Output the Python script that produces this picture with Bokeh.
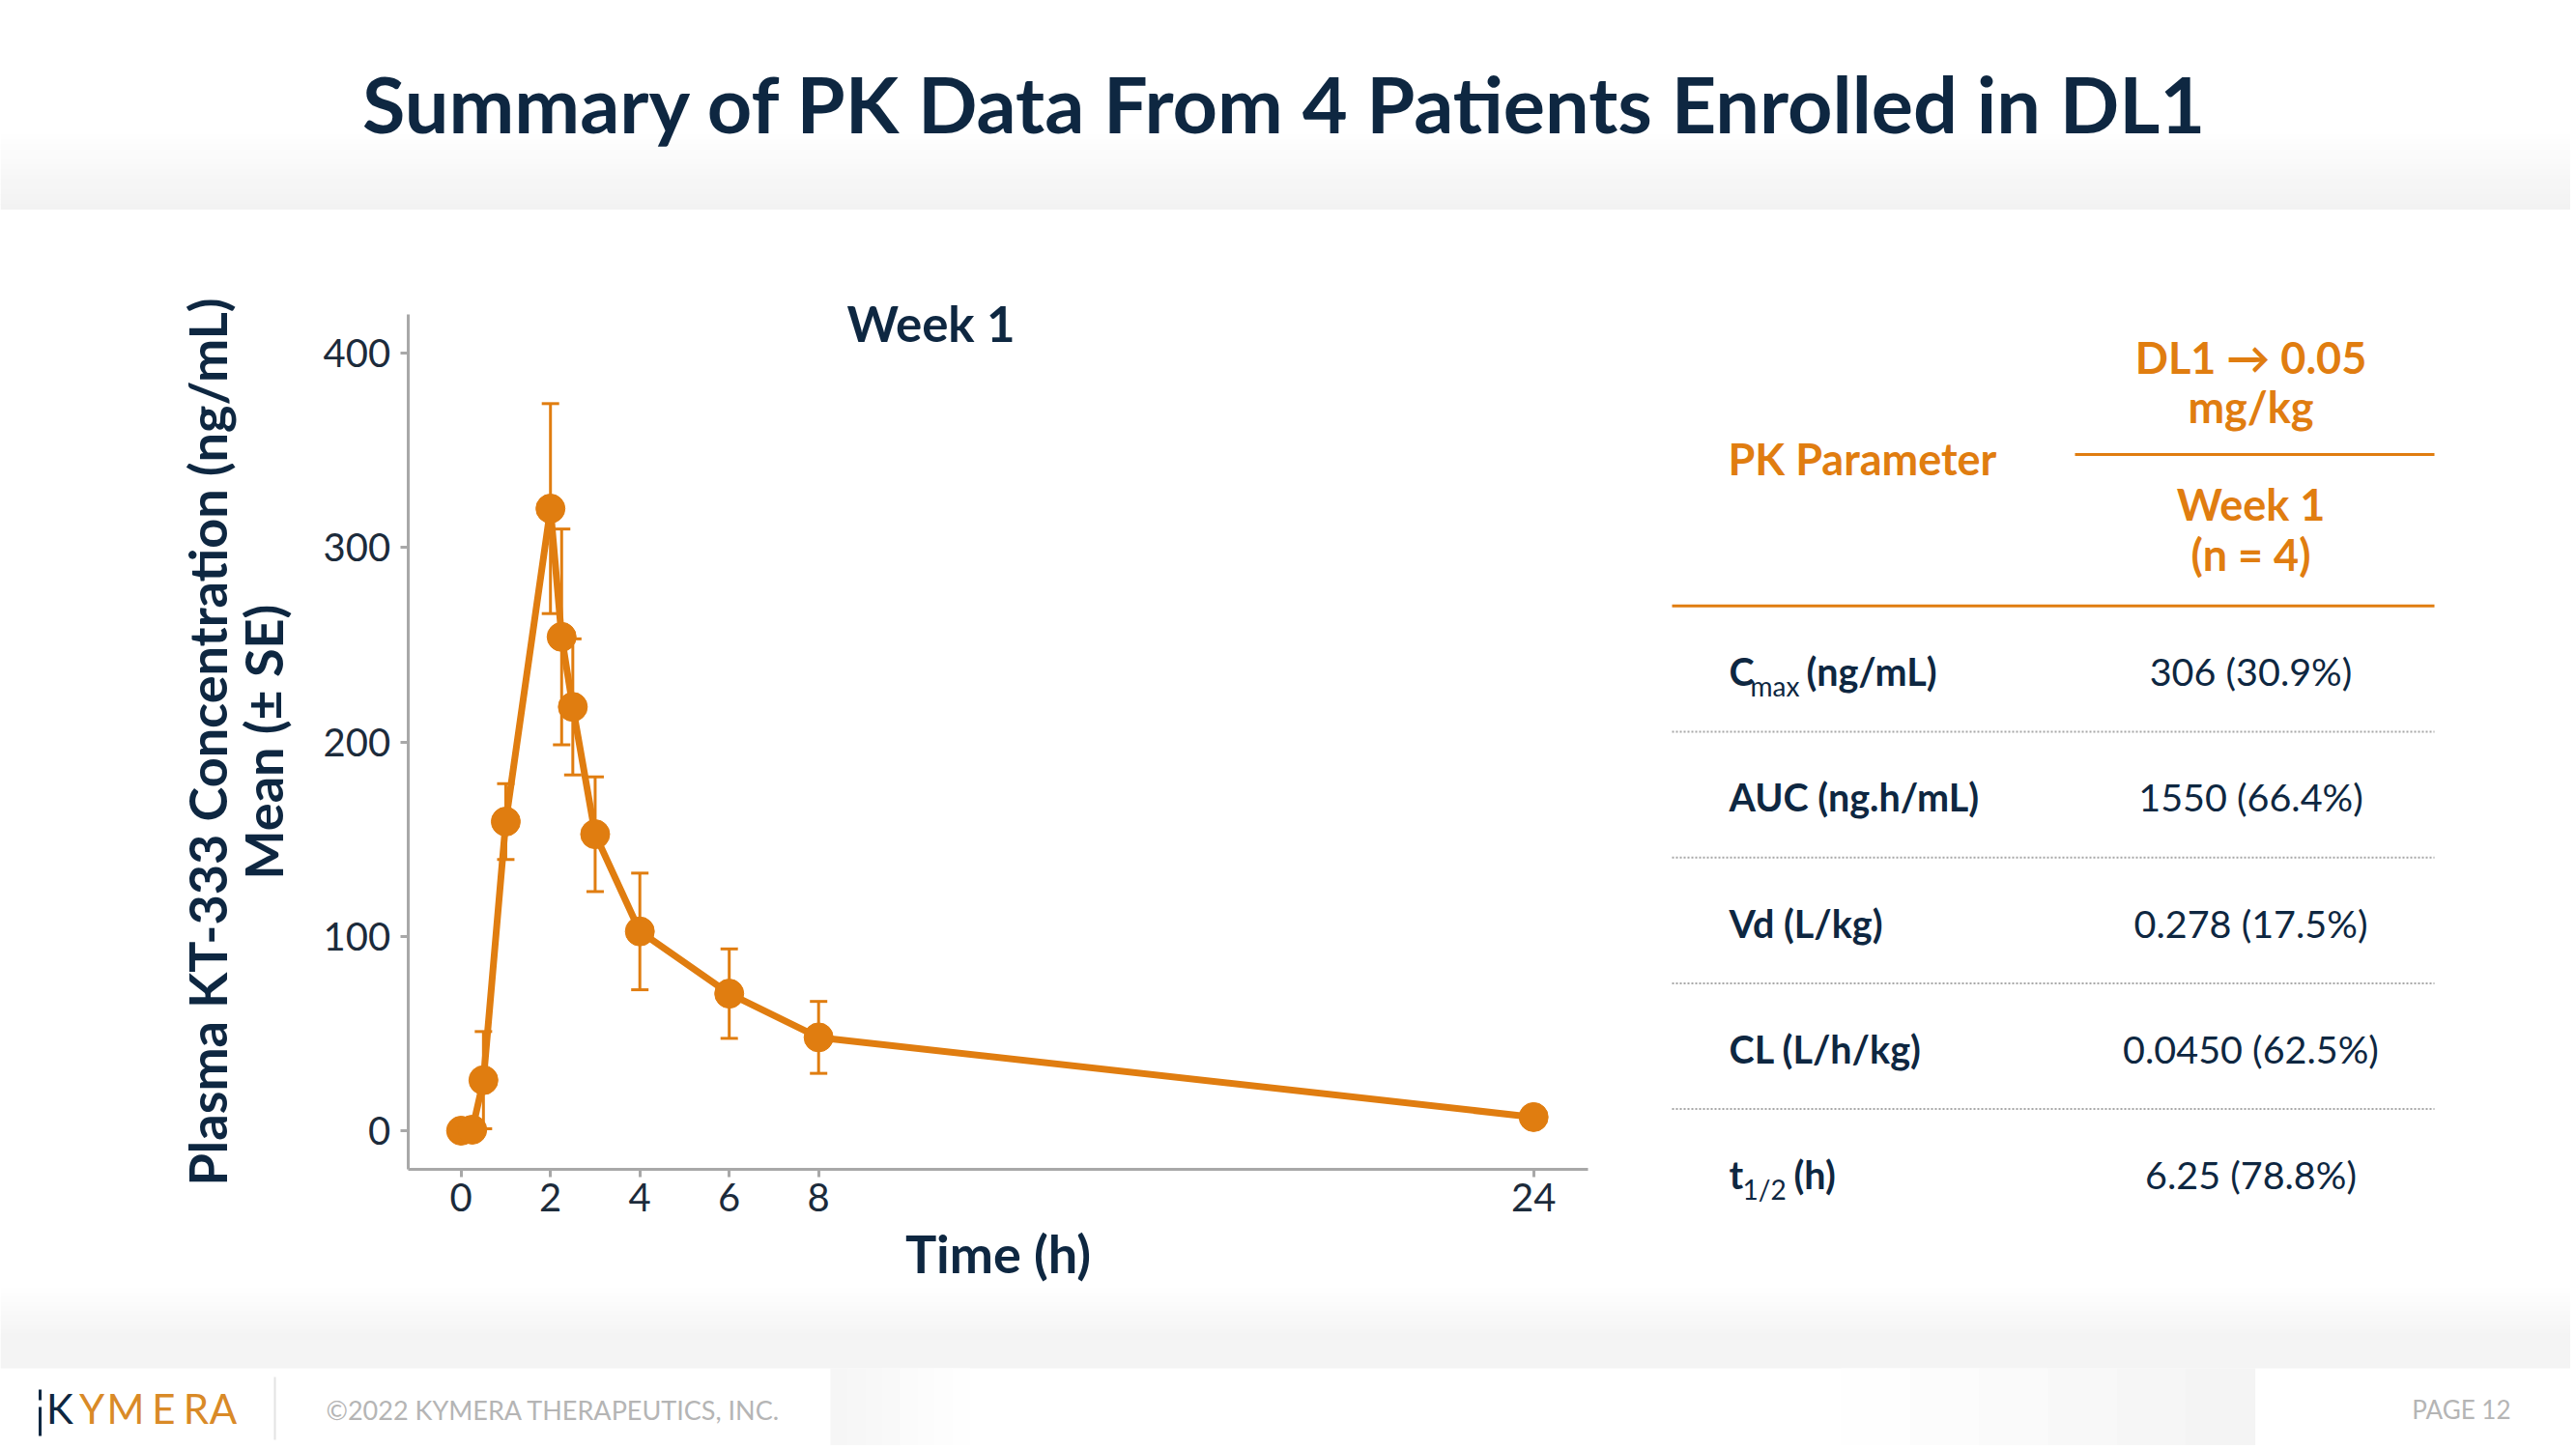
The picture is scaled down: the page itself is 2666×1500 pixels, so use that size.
from bokeh.plotting import figure
from bokeh.models import Range1d, FixedTicker
from bokeh.embed import file_html
from bokeh.resources import INLINE
from bokeh.core.properties import value

# ---------------- data ----------------
time_h = [0, 0.25, 0.5, 1, 2, 2.25, 2.5, 3, 4, 6, 8, 24]
mean_conc = [0, 0.5, 26, 159, 320, 254, 218, 152.5, 102.5, 70.5, 48, 7]
se_conc = [0, 0, 25, 19.5, 54, 55.5, 35, 29.5, 30, 23, 18.5, 0]
x_ticks = [0, 2, 4, 6, 8, 24]
y_ticks = [0, 100, 200, 300, 400]

param_main = ["C", "AUC (ng.h/mL)", "Vd (L/kg)", "CL (L/h/kg)", "t"]
param_sub = ["max", "", "", "", "1/2"]
param_rest = ["(ng/mL)", "", "", "", "(h)"]
param_values = ["306 (30.9%)", "1550 (66.4%)", "0.278 (17.5%)", "0.0450 (62.5%)", "6.25 (78.8%)"]
header_dose = ["DL1 \u2192 0.05", "mg/kg"]
header_week = ["Week 1", "(n = 4)"]

ORANGE = "#E07D10"
NAVY = "#0E2741"
AXIS_GRAY = "#A8A8A8"
FONT = "Lato"

# ---------------- page / chart geometry (pixels) ----------------
W, H = 2660, 1496
X0PX, XSCALE = 476.7, 46.25      # pixel of t=0, pixels per hour
Y0PX, YSCALE = 1170.0, 2.0125    # pixel of conc=0, pixels per ng/mL
X_LO, X_HI = -1.19, 25.21        # axis extent (data)
Y_LO, Y_HI = -19.9, 419.9

p = figure(width=W, height=H,
           x_range=Range1d((0 - X0PX) / XSCALE, (W - X0PX) / XSCALE),
           y_range=Range1d((Y0PX - H) / YSCALE, Y0PX / YSCALE),
           output_backend="svg", toolbar_location=None, min_border=0,
           outline_line_color=None)
p.extra_x_ranges = {"px": Range1d(0, W)}
p.extra_y_ranges = {"px": Range1d(H, 0)}
p.grid.visible = False
p.background_fill_color = "white"
p.border_fill_color = "white"

PX = dict(x_range_name="px", y_range_name="px")


def txt(x, y_base, s, size, color, bold=False, align="left", font=FONT):
    # y_base: desired alphabetic baseline in page pixels
    p.text(x=[x], y=[y_base - 0.387 * size], text=[s], text_font=value(font),
           text_font_size=value(f"{size}px"), text_font_style="bold" if bold else "normal",
           text_color=color, text_align=align, text_baseline="middle", **PX)


def hex2rgb(c):
    c = c.lstrip("#")
    return [int(c[i:i + 2], 16) for i in (0, 2, 4)]


def grad(x0, x1, y0, y1, c0, c1, n=12, vertical=True):
    a, b = hex2rgb(c0), hex2rgb(c1)
    L, R, T, B, C = [], [], [], [], []
    for i in range(n):
        f = (i + 0.5) / n
        C.append("#%02x%02x%02x" % tuple(int(round(a[k] + (b[k] - a[k]) * f)) for k in range(3)))
        if vertical:
            T.append(y0 + (y1 - y0) * i / n)
            B.append(y0 + (y1 - y0) * (i + 1) / n + 0.6)
            L.append(x0)
            R.append(x1)
        else:
            L.append(x0 + (x1 - x0) * i / n)
            R.append(x0 + (x1 - x0) * (i + 1) / n + 0.6)
            T.append(y0)
            B.append(y1)
    p.quad(left=L, right=R, top=T, bottom=B, fill_color=C, line_color=None, **PX)


# ---------------- header ----------------
grad(0, W, 133, 216, "#FFFFFF", "#F2F2F2", n=16)
txt(1330, 137, "Summary of PK Data From 4 Patients Enrolled in DL1", 81, NAVY, bold=True, align="center")

# ---------------- footer ----------------
grad(0, W, 1328, 1385, "#FFFFFF", "#F4F4F4", n=12)
p.quad(left=[0], right=[W], top=[1385], bottom=[1416], fill_color="#F4F4F4", line_color=None, **PX)
grad(859, 1003, 1416, H, "#F5F5F5", "#FFFFFF", n=8, vertical=False)
grad(1905, 2333, 1416, H, "#FFFFFF", "#F3F3F3", n=12, vertical=False)
p.segment(x0=[41, 41], y0=[1438, 1456], x1=[41, 41], y1=[1449, 1486], line_color=NAVY, line_width=3, **PX)
logo_letters = ["K", "Y", "M", "E", "R", "A"]
logo_x = [61.5, 94.5, 129.5, 169, 202.5, 230.5]
for letter, lx in zip(logo_letters, logo_x):
    txt(lx, 1474, letter, 42, NAVY if letter == "K" else "#D98A27", align="center")
p.segment(x0=[284], y0=[1425], x1=[284], y1=[1490], line_color="#E3E3E3", line_width=2, **PX)
txt(337, 1469, "\u00a92022 KYMERA THERAPEUTICS, INC.", 27, "#B5B5B5")
txt(2598, 1469, "PAGE 12", 26, "#B5B5B5", align="right")

# ---------------- table ----------------
CX = 2329
txt(1788, 491.7, "PK Parameter", 45, ORANGE, bold=True)
txt(CX, 386.7, header_dose[0], 45, ORANGE, bold=True, align="center")
txt(CX, 438.3, header_dose[1], 45, ORANGE, bold=True, align="center")
txt(CX, 539.3, header_week[0], 45, ORANGE, bold=True, align="center")
txt(CX, 591, header_week[1], 45, ORANGE, bold=True, align="center")
p.segment(x0=[2147, 1730], y0=[470, 626.7], x1=[2519, 2519], y1=[470, 626.7],
          line_color=ORANGE, line_width=3, **PX)

row_base = [709.3, 839.5, 970, 1100, 1230]
sub_dx = {"max": 22, "1/2": 14}
rest_dx = {"max": 80, "1/2": 67}
for i in range(len(param_main)):
    yb = row_base[i]
    txt(1789, yb, param_main[i], 39.5, NAVY, bold=True)
    if param_sub[i]:
        txt(1789 + sub_dx[param_sub[i]], yb + 11, param_sub[i], 28, NAVY)
        txt(1789 + rest_dx[param_sub[i]], yb, param_rest[i], 39.5, NAVY, bold=True)
    txt(CX, yb, param_values[i], 39.5, NAVY, align="center")
dot_y = [(row_base[i] + row_base[i + 1]) / 2 - 17.5 for i in range(4)]
p.segment(x0=[1730] * 4, y0=dot_y, x1=[2519] * 4, y1=dot_y, line_color="#A8A8A8",
          line_width=2, line_dash="2 2", **PX)

# ---------------- chart ----------------
txt(963, 354, "Week 1", 51, NAVY, bold=True, align="center")

p.xaxis.ticker = FixedTicker(ticks=x_ticks)
p.yaxis.ticker = FixedTicker(ticks=y_ticks)
p.xaxis.fixed_location = Y_LO
p.xaxis.bounds = (X_LO, X_HI)
p.yaxis.fixed_location = X_LO
p.yaxis.bounds = (Y_LO, Y_HI)
for ax in p.axis:
    ax.axis_line_color = AXIS_GRAY
    ax.axis_line_width = 3
    ax.major_tick_line_color = AXIS_GRAY
    ax.major_tick_line_width = 3
    ax.major_tick_out = 8
    ax.major_tick_in = 0
    ax.minor_tick_line_color = None
    ax.major_label_text_font = FONT
    ax.major_label_text_font_size = "40px"
    ax.major_label_text_color = "#1C2B3B"
    ax.axis_label_text_font = FONT
    ax.axis_label_text_font_style = "bold"
    ax.axis_label_text_font_size = "54px"
    ax.axis_label_text_color = NAVY
p.xaxis.axis_label = "Time (h)"
p.xaxis.major_label_standoff = 6
p.xaxis.axis_label_standoff = 8
p.xaxis.axis_label_text_line_height = 1.0
p.yaxis.axis_label = "Plasma KT-333 Concentration (ng/mL)\nMean (\u00b1 SE)"
p.yaxis.major_label_standoff = 10
p.yaxis.axis_label_standoff = 27
p.yaxis.axis_label_text_line_height = 0.89

p.line(time_h, mean_conc, line_color=ORANGE, line_width=7, line_join="round")
eb_t = [t for t, s in zip(time_h, se_conc) if s > 0]
eb_lo = [m - s for m, s in zip(mean_conc, se_conc) if s > 0]
eb_hi = [m + s for m, s in zip(mean_conc, se_conc) if s > 0]
p.segment(x0=eb_t, y0=eb_lo, x1=eb_t, y1=eb_hi, line_color=ORANGE, line_width=3)
p.scatter(x=eb_t + eb_t, y=eb_lo + eb_hi, marker="dash", size=18, line_color=ORANGE, line_width=3)
p.scatter(time_h, mean_conc, size=30, fill_color=ORANGE, line_color=ORANGE)

open("out.html", "w").write(file_html(p, INLINE))
